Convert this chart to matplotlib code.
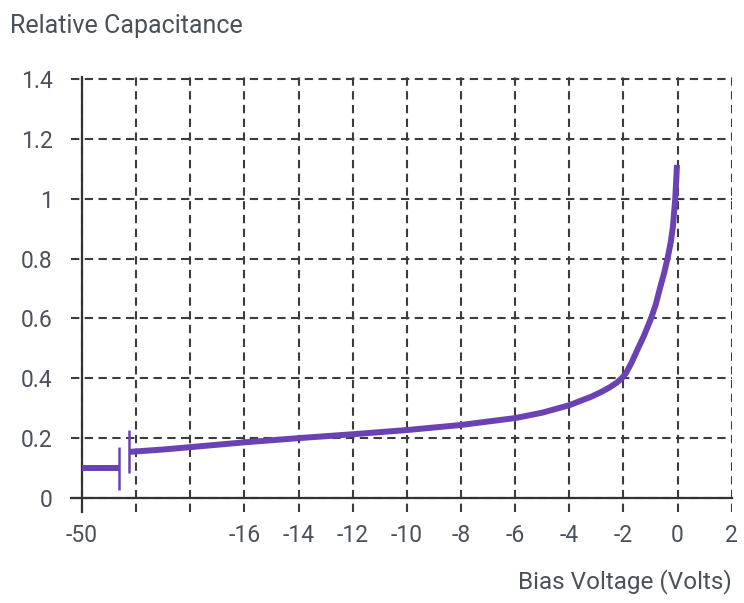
import matplotlib
matplotlib.use("Agg")
import matplotlib.pyplot as plt
from matplotlib import font_manager

# ---- data (x in broken-axis positions; "-50" is drawn at position -22) ----
seg_low_x = [-22.0, -20.63]
seg_low_y = [0.10, 0.10]

main_x = [-20.26, -19.0, -18.0, -17.0, -16.0, -14.0, -12.0, -10.0, -8.0, -6.0,
          -5.0, -4.0, -3.2, -2.8, -2.5, -2.25, -2.06, -1.9, -1.7, -1.5, -1.25,
          -0.98, -0.8, -0.64, -0.5, -0.37, -0.25, -0.17, -0.085, -0.02]
main_y = [0.154, 0.162, 0.170, 0.178, 0.186, 0.200, 0.213, 0.227, 0.244, 0.267,
          0.285, 0.310, 0.338, 0.355, 0.370, 0.385, 0.400, 0.418, 0.452, 0.492,
          0.540, 0.600, 0.648, 0.704, 0.750, 0.800, 0.855, 0.907, 1.000, 1.113]

break_half = 0.072

xtick_pos = [-22, -20, -18, -16, -14, -12, -10, -8, -6, -4, -2, 0, 2]
xtick_labels = ["-50", "", "", "-16", "-14", "-12", "-10", "-8", "-6", "-4", "-2", "0", "2"]
ytick_pos = [0, 0.2, 0.4, 0.6, 0.8, 1.0, 1.2, 1.4]
ytick_labels = ["0", "0.2", "0.4", "0.6", "0.8", "1", "1.2", "1.4"]

title_text = "Relative Capacitance"
xlabel_text = "Bias Voltage (Volts)"

# ---- style ----
names = {f.name for f in font_manager.fontManager.ttflist}
fam = "Roboto" if "Roboto" in names else "DejaVu Sans"
plt.rcParams["font.family"] = [fam, "DejaVu Sans"]

purple = "#6a42b3"
textc = "#4b505b"
gridc = "#3c3c3c"

fig = plt.figure(figsize=(7.44, 6.03), dpi=100)
W, H = 744, 603
px_unit_x = 27.07
x0px = 82.0
ax_left_px = x0px - 0.4 * px_unit_x
ax_right_px = x0px + (2.03 + 22) * px_unit_x
py_unit = 299.3
y0px = 498.0
ax_bot_px = y0px + 0.047 * py_unit
ax_top_px = y0px - 1.405 * py_unit
ax = fig.add_axes([ax_left_px / W, (H - ax_bot_px) / H,
                   (ax_right_px - ax_left_px) / W, (ax_bot_px - ax_top_px) / H])
ax.set_xlim(-22.4, 2.03)
ax.set_ylim(-0.047, 1.405)

ax.grid(True, color=gridc, linestyle=(0, (4, 2.6)), linewidth=1.5)
ax.set_axisbelow(True)

for s in ["top", "right"]:
    ax.spines[s].set_visible(False)
ax.spines["left"].set_position(("data", -22))
ax.spines["bottom"].set_position(("data", 0))
for s in ["left", "bottom"]:
    ax.spines[s].set_color("#333333")
    ax.spines[s].set_linewidth(1.6)
    ax.spines[s].set_zorder(3)

ax.set_xticks(xtick_pos)
ax.set_xticklabels(xtick_labels)
ax.set_yticks(ytick_pos)
ax.set_yticklabels(ytick_labels)
ax.tick_params(axis="both", length=0, labelsize=16.5, labelcolor=textc)
ax.tick_params(axis="x", pad=19)
ax.tick_params(axis="y", pad=21)

ax.plot(seg_low_x, seg_low_y, color=purple, lw=4.3, solid_capstyle="butt", zorder=4)
ax.plot(main_x, main_y, color=purple, lw=4.3, solid_capstyle="butt",
        solid_joinstyle="round", zorder=4)
ax.vlines([seg_low_x[-1], main_x[0]],
          [seg_low_y[-1] - break_half, main_y[0] - break_half],
          [seg_low_y[-1] + break_half, main_y[0] + break_half],
          color=purple, lw=1.8, zorder=4)

fig.text(10 / W, 1 - 33 / H, title_text, ha="left", va="baseline", fontsize=18, color=textc)
fig.text(732 / W, 1 - 588 / H, xlabel_text, ha="right", va="baseline", fontsize=17.5, color=textc)

fig.savefig("out.png", dpi=100)
